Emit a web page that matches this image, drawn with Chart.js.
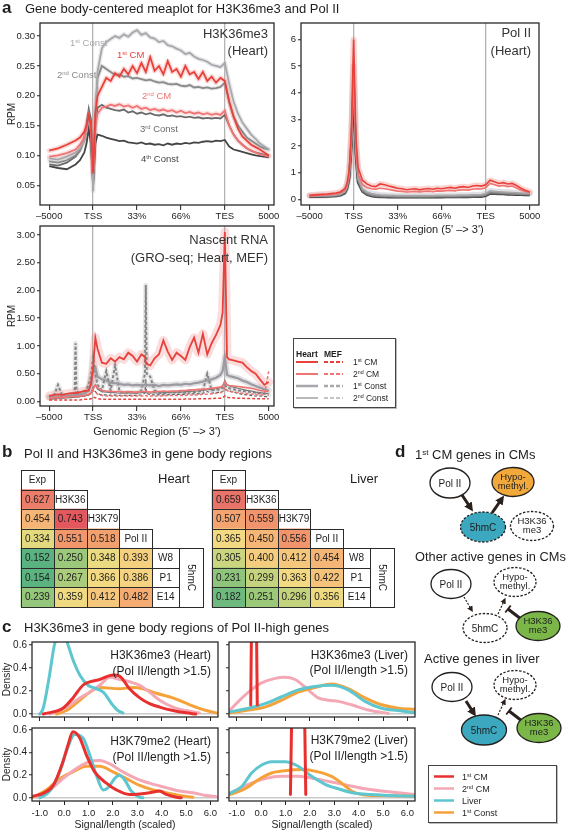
<!DOCTYPE html>
<html>
<head>
<meta charset="utf-8">
<script src="https://cdn.jsdelivr.net/npm/chart.js@4.4.0/dist/chart.umd.min.js"></script>
<style>
  html, body { margin: 0; padding: 0; background: #fff; }
  body { position: relative; width: 567px; height: 831px; overflow: hidden; font-family: 'Liberation Sans', Arial, Helvetica, sans-serif; color: #1e1e1e; }
  canvas { position: absolute; }
  .t { position: absolute; white-space: nowrap; line-height: 1; }
  .t sup { font-size: 0.62em; vertical-align: 0.48em; line-height: 0; }
  .legend { position: absolute; border: 1px solid #444; box-sizing: border-box; background: #fff; box-shadow: 1px 1px 0 #bbb; }
  svg.over { position: absolute; left: 0; top: 0; }
</style>
</head>
<body>
<script>
// ---------- data: panel a (meaplots) ----------
const regionTicks = [0, 1, 2, 3, 4, 5];
const regionLabels = ['–5000', 'TSS', '33%', '66%', 'TES', '5000'];

const metaPos = [0,0.2,0.4,0.6,0.7,0.8,0.85,0.9,0.95,1,1.05,1.1,1.2,1.3,1.4,1.5,1.6,1.7,1.8,1.9,2,2.1,2.2,2.3,2.4,2.5,2.6,2.7,2.8,2.9,3,3.1,3.2,3.3,3.4,3.5,3.6,3.7,3.8,3.9,4,4.1,4.2,4.3,4.4,4.5,4.6,4.7,4.8,4.9,5];

const k36CM1 = [0.108,0.112,0.118,0.125,0.13,0.14,0.15,0.168,0.15,0.07,
  0.17,0.2,0.215,0.23,0.225,0.238,0.232,0.245,0.236,0.25,
  0.238,0.255,0.24,0.265,0.242,0.25,0.236,0.258,0.24,0.245,
  0.232,0.25,0.236,0.24,0.228,0.24,0.225,0.232,0.222,0.23,
  0.225,0.19,0.165,0.145,0.132,0.125,0.118,0.114,0.11,0.105,0.1];
const k36CM2 = [0.098,0.1,0.104,0.11,0.118,0.13,0.145,0.165,0.145,0.07,
  0.15,0.17,0.18,0.182,0.185,0.183,0.186,0.182,0.184,0.18,
  0.183,0.178,0.18,0.176,0.178,0.175,0.177,0.174,0.176,0.172,
  0.175,0.171,0.173,0.17,0.172,0.169,0.171,0.168,0.17,0.168,
  0.175,0.15,0.135,0.125,0.118,0.112,0.108,0.105,0.102,0.1,0.098];
const k36Const1 = [0.095,0.093,0.098,0.105,0.112,0.125,0.14,0.165,0.14,0.04,
  0.16,0.24,0.28,0.29,0.295,0.3,0.297,0.303,0.299,0.306,
  0.31,0.302,0.305,0.298,0.296,0.29,0.292,0.285,0.283,0.279,
  0.276,0.27,0.272,0.266,0.262,0.26,0.257,0.252,0.25,0.248,
  0.255,0.22,0.19,0.17,0.155,0.145,0.135,0.128,0.12,0.115,0.11];
const k36Const2 = [0.09,0.088,0.092,0.1,0.108,0.125,0.145,0.17,0.15,0.06,
  0.17,0.23,0.25,0.245,0.24,0.235,0.236,0.232,0.233,0.229,
  0.23,0.228,0.226,0.227,0.224,0.222,0.223,0.22,0.219,0.22,
  0.217,0.216,0.218,0.214,0.215,0.213,0.214,0.212,0.213,0.215,
  0.222,0.19,0.165,0.15,0.14,0.13,0.125,0.12,0.115,0.112,0.11];
const k36Const3 = [0.085,0.083,0.088,0.098,0.108,0.13,0.15,0.178,0.16,0.05,
  0.15,0.18,0.185,0.18,0.178,0.176,0.175,0.177,0.172,0.174,
  0.17,0.172,0.169,0.171,0.168,0.167,0.169,0.166,0.167,0.165,
  0.166,0.164,0.165,0.163,0.164,0.162,0.163,0.162,0.163,0.162,
  0.168,0.15,0.135,0.125,0.118,0.112,0.108,0.105,0.103,0.101,0.1];
const k36Const4 = [0.082,0.079,0.077,0.085,0.092,0.105,0.12,0.145,0.12,0.05,
  0.12,0.135,0.133,0.13,0.128,0.126,0.124,0.125,0.122,0.121,
  0.12,0.122,0.119,0.12,0.118,0.119,0.117,0.12,0.118,0.12,
  0.119,0.121,0.12,0.122,0.121,0.123,0.124,0.123,0.125,0.124,
  0.126,0.115,0.11,0.108,0.106,0.104,0.102,0.1,0.099,0.098,0.097];

const polCM1 = [0.15,0.18,0.2,0.24,0.28,0.4,0.6,1.1,2.6,6.0,
  2.4,1.2,0.72,0.58,0.5,0.48,0.58,0.55,0.5,0.46,
  0.42,0.4,0.36,0.38,0.4,0.36,0.39,0.41,0.38,0.42,
  0.4,0.43,0.45,0.42,0.46,0.48,0.45,0.5,0.52,0.5,
  0.55,0.72,0.66,0.6,0.63,0.58,0.6,0.52,0.42,0.34,0.28];
const polCM2 = [0.13,0.15,0.17,0.2,0.24,0.34,0.5,0.95,2.2,5.3,
  2.0,0.95,0.55,0.45,0.4,0.38,0.42,0.4,0.37,0.34,
  0.31,0.3,0.28,0.29,0.3,0.28,0.3,0.31,0.29,0.32,
  0.31,0.33,0.34,0.32,0.35,0.36,0.35,0.38,0.4,0.39,
  0.44,0.6,0.55,0.5,0.52,0.48,0.5,0.43,0.35,0.3,0.25];
const polConst1 = [0.14,0.14,0.15,0.17,0.2,0.3,0.48,0.95,2.3,5.0,
  2.0,0.8,0.4,0.28,0.22,0.19,0.17,0.16,0.15,0.15,
  0.14,0.14,0.14,0.14,0.14,0.14,0.14,0.14,0.14,0.15,
  0.15,0.15,0.15,0.15,0.16,0.16,0.16,0.17,0.17,0.18,
  0.22,0.32,0.3,0.29,0.28,0.27,0.26,0.25,0.24,0.23,0.22];
const polConst2 = [0.12,0.12,0.13,0.15,0.18,0.27,0.44,0.9,2.2,4.6,
  1.9,0.75,0.35,0.23,0.17,0.14,0.13,0.12,0.12,0.11,
  0.11,0.11,0.11,0.11,0.11,0.11,0.11,0.11,0.11,0.12,
  0.12,0.12,0.12,0.12,0.12,0.13,0.13,0.13,0.14,0.14,
  0.18,0.27,0.26,0.25,0.24,0.23,0.22,0.21,0.2,0.2,0.19];
const polConst3 = [0.11,0.11,0.12,0.14,0.17,0.25,0.42,0.85,2.1,4.4,
  1.8,0.7,0.32,0.2,0.15,0.12,0.11,0.1,0.1,0.1,
  0.09,0.09,0.09,0.09,0.09,0.09,0.09,0.09,0.1,0.1,
  0.1,0.1,0.1,0.1,0.1,0.11,0.11,0.11,0.12,0.12,
  0.16,0.24,0.23,0.22,0.22,0.21,0.2,0.2,0.19,0.18,0.18];
const polConst4 = [0.1,0.1,0.11,0.13,0.16,0.23,0.4,0.8,2.0,4.2,
  1.7,0.65,0.3,0.18,0.13,0.1,0.09,0.09,0.08,0.08,
  0.08,0.08,0.08,0.08,0.08,0.08,0.08,0.08,0.08,0.08,
  0.08,0.09,0.09,0.09,0.09,0.09,0.09,0.1,0.1,0.1,
  0.14,0.22,0.21,0.2,0.2,0.19,0.19,0.18,0.18,0.17,0.17];

const groPos = [0,0.1,0.2,0.3,0.4,0.5,0.58,0.6,0.62,0.7,
  0.8,0.9,0.95,1,1.05,1.1,1.2,1.3,1.4,1.5,
  1.6,1.7,1.8,1.9,2,2.1,2.18,2.2,2.22,2.3,
  2.4,2.5,2.6,2.7,2.8,2.9,3,3.1,3.2,3.3,
  3.4,3.5,3.6,3.7,3.8,3.9,3.95,4,4.05,4.1,
  4.2,4.3,4.4,4.5,4.6,4.7,4.8,4.9,5];
const groHeartCM1 = [0.1,0.12,0.13,0.12,0.14,0.15,0.15,0.16,0.15,0.17,
  0.19,0.2,0.3,0.6,1.15,0.95,0.7,0.68,0.78,0.72,
  0.8,0.76,0.88,0.82,0.72,0.85,0.8,0.7,0.68,0.65,
  0.78,0.85,1.1,0.9,0.75,0.88,0.82,0.75,0.98,1.15,
  0.88,1.22,0.85,1.05,1.2,1.38,1.6,3.05,0.8,0.76,
  0.74,0.72,0.7,0.62,0.55,0.5,0.4,0.3,0.35];
const groHeartCM2 = [0.06,0.07,0.07,0.08,0.08,0.09,0.09,0.1,0.09,0.1,
  0.11,0.13,0.15,0.22,0.3,0.25,0.2,0.19,0.18,0.18,
  0.18,0.17,0.18,0.17,0.17,0.18,0.18,0.2,0.18,0.17,
  0.18,0.18,0.19,0.18,0.19,0.19,0.2,0.2,0.21,0.21,
  0.22,0.22,0.23,0.24,0.25,0.26,0.28,0.36,0.3,0.29,
  0.28,0.27,0.26,0.25,0.24,0.22,0.2,0.19,0.18];
const groHeartConst1 = [0.07,0.08,0.09,0.1,0.1,0.11,0.12,0.14,0.12,0.13,
  0.15,0.2,0.35,0.55,0.6,0.45,0.4,0.38,0.34,0.33,
  0.32,0.3,0.31,0.29,0.3,0.29,0.3,0.32,0.3,0.29,
  0.3,0.28,0.3,0.29,0.3,0.31,0.3,0.32,0.31,0.33,
  0.34,0.36,0.38,0.4,0.43,0.48,0.55,0.8,0.48,0.46,
  0.44,0.42,0.38,0.35,0.31,0.28,0.25,0.22,0.2];
const groHeartConst2 = [0.05,0.05,0.06,0.06,0.07,0.07,0.08,0.08,0.08,0.09,
  0.1,0.12,0.16,0.25,0.3,0.22,0.18,0.17,0.16,0.16,
  0.15,0.15,0.16,0.15,0.15,0.16,0.16,0.18,0.16,0.15,
  0.16,0.15,0.16,0.16,0.17,0.17,0.17,0.18,0.18,0.19,
  0.19,0.2,0.21,0.22,0.23,0.25,0.28,0.38,0.3,0.28,
  0.26,0.24,0.22,0.2,0.19,0.17,0.16,0.15,0.14];
const groMefCM1 = [0.03,0.03,0.03,0.03,0.03,0.03,0.03,0.03,0.03,0.03,
  0.04,0.04,0.05,0.08,0.07,0.05,0.04,0.04,0.04,0.04,
  0.04,0.04,0.04,0.04,0.04,0.04,0.04,0.04,0.04,0.04,
  0.04,0.04,0.04,0.04,0.04,0.04,0.04,0.045,0.045,0.045,
  0.05,0.05,0.05,0.055,0.06,0.06,0.07,0.1,0.08,0.07,
  0.065,0.06,0.06,0.055,0.055,0.05,0.05,0.05,0.05];
const groMefCM2 = [0.07,0.07,0.08,0.08,0.08,0.09,0.09,0.09,0.09,0.1,
  0.1,0.12,0.14,0.2,0.17,0.13,0.11,0.1,0.1,0.1,
  0.1,0.1,0.1,0.1,0.1,0.1,0.1,0.11,0.1,0.1,
  0.1,0.1,0.1,0.11,0.11,0.11,0.11,0.11,0.12,0.12,
  0.12,0.13,0.13,0.14,0.15,0.16,0.18,0.25,0.2,0.18,
  0.17,0.16,0.15,0.14,0.13,0.13,0.12,0.12,0.55];
const groMefConst1 = [0.1,0.09,0.3,0.1,0.1,0.11,0.15,1.05,0.2,0.12,
  0.14,0.3,0.45,0.8,0.5,0.3,0.2,0.55,0.2,0.65,
  0.18,0.17,0.16,0.17,0.16,0.2,0.5,2.1,0.5,0.45,
  0.2,0.16,0.15,0.16,0.17,0.16,0.17,0.16,0.18,0.17,
  0.18,0.19,0.5,0.2,0.21,0.22,0.25,0.3,0.25,0.24,
  0.22,0.2,0.19,0.18,0.17,0.16,0.15,0.14,0.12];
const groMefConst2 = [0.08,0.08,0.08,0.08,0.08,0.08,0.09,0.12,0.09,0.09,
  0.1,0.12,0.15,0.2,0.18,0.14,0.12,0.12,0.11,0.12,
  0.11,0.11,0.11,0.11,0.11,0.12,0.15,0.4,0.15,0.12,
  0.12,0.12,0.12,0.12,0.13,0.13,0.13,0.13,0.14,0.14,
  0.14,0.15,0.18,0.15,0.16,0.17,0.18,0.22,0.2,0.19,
  0.17,0.15,0.13,0.12,0.11,0.1,0.1,0.09,0.09];

// ---------- data: panel b (correlation tables) ----------
const heatMarks = ['Exp', 'H3K36', 'H3K79', 'Pol II'];
const hmcStages = ['W8', 'P1', 'E14'];
const heartH3K36 = [0.627];
const heartH3K79 = [0.454, 0.743];
const heartPolII = [0.334, 0.551, 0.518];
const heartW8 = [0.152, 0.250, 0.348, 0.393];
const heartP1 = [0.154, 0.267, 0.366, 0.386];
const heartE14 = [0.239, 0.359, 0.412, 0.482];
const liverH3K36 = [0.659];
const liverH3K79 = [0.507, 0.559];
const liverPolII = [0.365, 0.450, 0.556];
const liverW8 = [0.305, 0.400, 0.412, 0.454];
const liverP1 = [0.231, 0.299, 0.363, 0.422];
const liverE14 = [0.182, 0.251, 0.296, 0.356];

// ---------- data: panel c (densities, [signal, density]) ----------
const signalTicks = [-1, 0, 1, 2, 3, 4, 5, 6];
const densityTicks = [0, 0.2, 0.4, 0.6];
const hk36CM1 = [[-0.86,0],[-0.05,0.05],[0.36,0.14],[0.77,0.25],[1.05,0.28],[1.46,0.3],[2.0,0.34],[2.27,0.33],[2.68,0.22],[3.1,0.14],[3.5,0.09],[3.92,0.06],[4.46,0.03],[5.0,0.01],[5.4,0]];
const hk36CM2 = [[-0.59,0],[0.09,0.06],[0.64,0.14],[1.05,0.19],[1.46,0.25],[1.87,0.32],[2.27,0.3],[2.68,0.28],[3.1,0.25],[3.5,0.19],[3.92,0.12],[4.46,0.06],[5.0,0.03],[5.55,0.01]];
const hk36Liver = [[-1.0,0],[-0.86,0.05],[-0.6,0.34],[-0.4,0.6],[-0.2,0.69],[0,0.69],[0.16,0.6],[0.4,0.45],[0.64,0.34],[0.98,0.25],[1.32,0.22],[1.6,0.19],[2.0,0.075],[2.2,0.03],[2.41,0.01]];
const hk36Const1 = [[-0.32,0],[0.09,0.03],[0.64,0.12],[1.05,0.19],[1.46,0.23],[2.27,0.22],[2.82,0.23],[3.23,0.22],[3.78,0.18],[4.46,0.14],[5.15,0.08],[5.83,0.03],[6.24,0.01]];
const hk79CM1 = [[-1.28,0.015],[-0.86,0.04],[-0.45,0.11],[-0.05,0.32],[0.16,0.47],[0.36,0.585],[0.64,0.53],[0.91,0.38],[1.25,0.23],[1.73,0.13],[2.14,0.07],[2.68,0.03],[3.1,0.035],[3.5,0.045],[3.92,0.06],[4.19,0.03],[4.6,0.005],[4.8,0]];
const hk79CM2 = [[-1.14,0.005],[-0.59,0.07],[-0.05,0.17],[0.5,0.26],[1.05,0.32],[1.46,0.33],[1.87,0.3],[2.41,0.23],[2.96,0.17],[3.5,0.13],[4.19,0.09],[4.73,0.06],[5.28,0.045],[5.83,0.02],[6.24,0.01]];
const hk79Liver = [[-1.0,0],[-0.59,0.06],[-0.18,0.23],[0.09,0.41],[0.43,0.56],[0.77,0.53],[1.05,0.38],[1.32,0.2],[1.6,0.07],[1.8,0.09],[2.07,0.17],[2.27,0.2],[2.48,0.16],[2.75,0.06],[3.1,0.005],[3.23,0]];
const hk79Const1 = [[-1.28,0.005],[-0.73,0.07],[-0.18,0.17],[0.36,0.23],[0.91,0.28],[1.46,0.28],[2.0,0.23],[2.55,0.17],[3.1,0.11],[3.64,0.07],[4.19,0.045],[4.73,0.02],[5.28,0.005]];
const lk36CM1 = [[-0.43,0.078],[-0.39,0.9],[-0.2,0.9],[-0.16,0.078]];
const lk36CM2 = [[-1.27,0.035],[-0.93,0.11],[-0.52,0.19],[0.02,0.27],[0.57,0.31],[0.98,0.32],[1.39,0.3],[1.93,0.21],[2.34,0.14],[2.75,0.12],[3.16,0.11],[3.71,0.08],[4.39,0.035],[5.22,0.005]];
const lk36Liver = [[-1.27,0.02],[-0.52,0.05],[0.16,0.09],[0.84,0.15],[1.52,0.21],[2.21,0.24],[2.89,0.25],[3.57,0.21],[4.26,0.11],[4.94,0.05],[5.62,0.03],[6.3,0.01]];
const lk36Const1 = [[-1.27,0.01],[-0.52,0.035],[0.16,0.06],[0.84,0.12],[1.52,0.19],[2.21,0.23],[2.89,0.26],[3.57,0.22],[4.26,0.14],[4.94,0.08],[5.62,0.05],[6.3,0.04]];
const lk79CM1 = [[1.2,0.03],[1.265,0.9],[1.77,0.9],[1.83,0.03]];
const lk79CM2 = [[-1.27,0.04],[-0.52,0.12],[0.16,0.17],[0.84,0.19],[1.52,0.19],[2.21,0.17],[2.89,0.14],[3.57,0.11],[4.26,0.08],[4.94,0.06],[5.62,0.045],[6.3,0.03]];
const lk79Liver = [[-1.27,0.04],[-0.8,0.1],[-0.39,0.22],[0.02,0.29],[0.43,0.32],[0.98,0.32],[1.52,0.28],[2.07,0.19],[2.62,0.12],[3.16,0.08],[3.85,0.04],[4.53,0.03],[5.22,0.02],[6.3,0.015]];
const lk79Const1 = [[-1.27,0.03],[-0.66,0.08],[-0.12,0.16],[0.43,0.22],[0.98,0.24],[1.66,0.25],[2.34,0.23],[2.89,0.19],[3.3,0.13],[3.71,0.06],[4.12,0.03],[4.94,0.02],[6.3,0.015]];

// ---------- setup ----------
const FONT = "'Liberation Sans', Arial, Helvetica, sans-serif";
Chart.defaults.font.family = FONT;
Chart.defaults.font.size = 10;
Chart.defaults.color = '#1e1e1e';

const col = { cm1: '#e8413c', cm2: '#f07474', c1: '#a7a7ac', c2: '#8a8a8a', c3: '#6a6a6a', c4: '#454545',
  red: '#e8312f', pink: '#f4a8b6', cyan: '#5ec6cf', orange: '#f6a23a' };

// box around the plot area
const frame = {
  id: 'frame',
  afterDatasetsDraw(chart) {
    const a = chart.chartArea, ctx = chart.ctx;
    ctx.save();
    ctx.strokeStyle = '#2a2a2a';
    ctx.lineWidth = 1.3;
    ctx.strokeRect(a.left, a.top, a.right - a.left, a.bottom - a.top);
    ctx.restore();
  }
};

function addCanvas(left, top, width, height) {
  const cv = document.createElement('canvas');
  cv.width = width; cv.height = height;
  cv.style.cssText = `left:${left}px;top:${top}px;width:${width}px;height:${height}px`;
  document.body.appendChild(cv);
  return cv;
}

function pts(xs, ys) { return xs.map((x, i) => ({ x, y: ys[i] })); }
function line(xs, ys, color, width, order, extra) {
  return Object.assign({ data: pts(xs, ys), borderColor: color, borderWidth: width, pointRadius: 0, tension: 0, order }, extra || {});
}
function band(xs, ys, color, width) {
  return line(xs, ys, color, width, 20, { borderJoinStyle: 'round', borderCapStyle: 'round' });
}
function curve(pairs, color, order, smooth = true) {
  return { data: pairs.map(([x, y]) => ({ x, y })), borderColor: color, borderWidth: 3, pointRadius: 0, order,
    tension: 0, cubicInterpolationMode: smooth ? 'monotone' : 'default', borderJoinStyle: 'round', borderCapStyle: 'round' };
}

function yAxis(p, min, max, ticks, fmt, title, showLabels, zeroLine) {
  return {
    type: 'linear', position: 'left', min, max,
    afterBuildTicks: s => { s.ticks = ticks.map(v => ({ value: v })); },
    afterFit: s => { s.width = p.yw; s.paddingTop = 0; s.paddingBottom = 0; },
    grid: { drawOnChartArea: !!zeroLine, color: c => (zeroLine && c.tick && c.tick.value === 0) ? '#c9c9c9' : 'rgba(0,0,0,0)',
      lineWidth: 1.5, tickColor: '#222', tickWidth: 1, tickLength: 3 },
    border: { display: false },
    ticks: { display: showLabels, callback: fmt, padding: 2, font: { size: p.ySize || 9.5 } },
    title: { display: !!title, text: title, font: { size: 10 }, padding: { top: p.titleLeft || 6, bottom: 0 } }
  };
}

function xAxis(p, min, max, ticks, fmt, o) {
  return {
    type: 'linear', position: 'bottom', min, max,
    afterBuildTicks: s => { s.ticks = ticks.map(v => ({ value: v })); },
    afterFit: s => { s.height = p.xh; s.paddingLeft = 0; s.paddingRight = 0; },
    grid: o.grid,
    border: { display: false },
    ticks: { display: o.labels, callback: fmt, padding: o.pad, font: { size: o.size }, maxRotation: 0, autoSkip: false },
    title: { display: !!o.title, text: o.title, font: { size: o.titleSize || 11 }, padding: { top: 0, bottom: o.titlePad || 0 } }
  };
}

function buildChart(p, datasets, scales) {
  const left = p.l - p.yw, top = p.t - p.padT;
  const cv = addCanvas(left, top, p.r + p.padR - left, p.b + p.xh - top);
  return new Chart(cv, {
    type: 'line',
    data: { datasets },
    plugins: [frame],
    options: {
      responsive: false, animation: false, events: [],
      layout: { padding: { top: p.padT, right: p.padR, bottom: 0, left: 0 } },
      plugins: { legend: { display: false }, tooltip: { enabled: false } },
      scales
    }
  });
}

// ---------- panel a ----------
const regionGrid = { color: c => (c.tick && (c.tick.value === 1 || c.tick.value === 4)) ? '#b4b4b4' : 'rgba(0,0,0,0)',
  lineWidth: 1.3, tickColor: '#222', tickWidth: 1, tickLength: 5 };
const regionFmt = v => regionLabels[regionTicks.indexOf(v)];

const pA1 = { l: 40, t: 23, r: 274, b: 205, yw: 40, xh: 18, padT: 8, padR: 14 };
buildChart(pA1, [
  line(metaPos, k36CM1, col.cm1, 1.8, 0),
  line(metaPos, k36CM2, col.cm2, 1.8, 1),
  line(metaPos, k36Const1, col.c1, 1.8, 2),
  line(metaPos, k36Const2, col.c2, 1.8, 3),
  line(metaPos, k36Const3, col.c3, 1.8, 4),
  line(metaPos, k36Const4, col.c4, 1.8, 5),
  band(metaPos, k36CM1, 'rgba(240,120,110,0.28)', 5),
  band(metaPos, k36CM2, 'rgba(245,150,150,0.28)', 5),
  band(metaPos, k36Const1, 'rgba(190,190,195,0.35)', 4.5),
  band(metaPos, k36Const2, 'rgba(160,160,160,0.25)', 4)
], {
  x: xAxis(pA1, -0.21, 5.12, regionTicks, regionFmt, { grid: regionGrid, labels: true, pad: 1, size: 9.5 }),
  y: yAxis(pA1, 0.017, 0.322, [0.05, 0.1, 0.15, 0.2, 0.25, 0.3], v => v.toFixed(2), 'RPM', true)
});

const pA2 = { l: 301, t: 23, r: 539, b: 205, yw: 28, xh: 33, padT: 8, padR: 16 };
buildChart(pA2, [
  line(metaPos, polCM1, col.cm1, 1.6, 0),
  line(metaPos, polCM2, col.cm2, 1.6, 1),
  line(metaPos, polConst1, col.c1, 1.6, 2),
  line(metaPos, polConst2, col.c2, 1.8, 3),
  line(metaPos, polConst3, col.c3, 2, 4),
  line(metaPos, polConst4, col.c4, 2.6, 5),
  band(metaPos, polCM1, 'rgba(240,120,110,0.3)', 6),
  band(metaPos, polConst1, 'rgba(170,170,175,0.35)', 6)
], {
  x: xAxis(pA2, -0.195, 5.21, regionTicks, regionFmt, { grid: regionGrid, labels: true, pad: 1, size: 9.5,
    title: "Genomic Region (5' –> 3')", titleSize: 11, titlePad: 1 }),
  y: yAxis(pA2, -0.21, 6.62, [0, 1, 2, 3, 4, 5, 6], v => String(v), '', true)
});

const pA3 = { l: 40, t: 226, r: 274, b: 406, yw: 40, xh: 34, padT: 6, padR: 14 };
buildChart(pA3, [
  line(groPos, groHeartCM1, col.cm1, 1.8, 0),
  line(groPos, groHeartCM2, col.cm2, 1.6, 2),
  line(groPos, groHeartConst1, '#9a9aa0', 2.2, 3),
  line(groPos, groHeartConst2, '#7a7a7a', 1.2, 4),
  line(groPos, groMefCM1, col.cm1, 1.5, 1, { borderDash: [3, 2] }),
  line(groPos, groMefCM2, col.cm2, 1.5, 5, { borderDash: [3, 2] }),
  line(groPos, groMefConst1, '#858585', 2, 6, { borderDash: [3, 2] }),
  line(groPos, groMefConst2, '#5e5e5e', 1.2, 7, { borderDash: [3, 2] }),
  band(groPos, groHeartCM1, 'rgba(240,120,120,0.25)', 9),
  band(groPos, groHeartConst1, 'rgba(170,170,175,0.35)', 6),
  band(groPos, groMefConst1, 'rgba(190,190,190,0.35)', 5)
], {
  x: xAxis(pA3, -0.21, 5.12, regionTicks, regionFmt, { grid: regionGrid, labels: true, pad: 1, size: 9.5,
    title: "Genomic Region (5' –> 3')", titleSize: 11, titlePad: 1 }),
  y: yAxis(pA3, -0.08, 3.16, [0, 0.5, 1, 1.5, 2, 2.5, 3], v => v.toFixed(2), 'RPM', true)
});

// ---------- panel b ----------
function heatColor(v) {
  const stops = [[0.15,[88,178,128]],[0.25,[155,200,122]],[0.33,[225,218,128]],[0.37,[245,218,130]],
    [0.45,[245,182,118]],[0.55,[242,150,108]],[0.65,[234,118,106]],[0.75,[226,86,94]]];
  if (v <= stops[0][0]) return `rgb(${stops[0][1].join(',')})`;
  for (let i = 1; i < stops.length; i++) {
    if (v <= stops[i][0]) {
      const [a, ca] = stops[i - 1], [b, cb] = stops[i], t = (v - a) / (b - a);
      return `rgb(${ca.map((c, k) => Math.round(c + (cb[k] - c) * t)).join(',')})`;
    }
  }
  return `rgb(${stops[stops.length - 1][1].join(',')})`;
}

function strokeBox(ctx, b) {
  const x0 = Math.round(b.x0), y0 = Math.round(b.y0), x1 = Math.round(b.x1), y1 = Math.round(b.y1);
  ctx.strokeRect(x0 + 0.5, y0 + 0.5, x1 - x0, y1 - y0);
}

// cell outlines and numbers, placed on the bars the library laid out
const cellText = {
  id: 'cellText',
  afterDatasetsDraw(chart) {
    const ctx = chart.ctx;
    ctx.save();
    ctx.font = `10px ${FONT}`;
    ctx.fillStyle = '#1e1e1e';
    ctx.textAlign = 'center';
    ctx.textBaseline = 'middle';
    ctx.strokeStyle = '#2a2a2a';
    ctx.lineWidth = 1;
    chart.data.datasets.forEach((ds, k) => {
      const els = chart.getDatasetMeta(k).data;
      const boxes = [];
      ds.data.forEach((d, i) => {
        if (!d) return;
        const el = els[i];
        boxes.push({ x0: Math.min(el.base, el.x), x1: Math.max(el.base, el.x),
          y0: el.y - el.height / 2, y1: el.y + el.height / 2, t: ds.texts ? ds.texts[i] : '' });
      });
      if (!boxes.length) return;
      if (ds.merged) {
        const b = { x0: boxes[0].x0, x1: boxes[0].x1, y0: boxes[0].y0, y1: boxes[boxes.length - 1].y1 };
        strokeBox(ctx, b);
        ctx.save();
        ctx.translate((b.x0 + b.x1) / 2, (b.y0 + b.y1) / 2);
        ctx.rotate(Math.PI / 2);
        ctx.fillText(ds.merged, 0, 0);
        ctx.restore();
      } else {
        boxes.forEach(b => { strokeBox(ctx, b); ctx.fillText(b.t, (b.x0 + b.x1) / 2, (b.y0 + b.y1) / 2 + 0.5); });
      }
    });
    ctx.restore();
  }
};

function heatTable(left, top, rows) {
  const cv = addCanvas(left - 1, top - 1, 184, 139);
  const datasets = heatMarks.map((m, j) => {
    const data = [], colors = [], texts = [];
    rows.forEach((r, i) => {
      if (i === j) { data.push([j, j + 1]); colors.push('#fff'); texts.push(m); }
      else if (i > j && r[j] !== undefined) { data.push([j, j + 1]); colors.push(heatColor(r[j])); texts.push(r[j].toFixed(3)); }
      else { data.push(null); colors.push('#fff'); texts.push(''); }
    });
    return { data, backgroundColor: colors, texts };
  });
  const stageIdx = rows.map((r, i) => i - (rows.length - hmcStages.length));
  datasets.push({ data: stageIdx.map(k => k >= 0 ? [4, 4.82] : null), backgroundColor: '#fff',
    texts: stageIdx.map(k => k >= 0 ? hmcStages[k] : '') });
  datasets.push({ data: stageIdx.map(k => k >= 0 ? [4.82, 5.55] : null), backgroundColor: '#fff', merged: '5hmC' });
  new Chart(cv, {
    type: 'bar',
    data: { labels: rows.map((r, i) => i), datasets },
    plugins: [cellText],
    options: {
      indexAxis: 'y', responsive: false, animation: false, events: [],
      layout: { padding: 1 },
      plugins: { legend: { display: false }, tooltip: { enabled: false } },
      datasets: { bar: { grouped: false, barPercentage: 1, categoryPercentage: 1, borderWidth: 0, clip: false } },
      scales: { x: { type: 'linear', min: 0, max: 5.55, display: false }, y: { type: 'category', display: false, offset: true } }
    }
  });
}
heatTable(21, 470, [[], heartH3K36, heartH3K79, heartPolII, heartW8, heartP1, heartE14]);
heatTable(212, 470, [[], liverH3K36, liverH3K79, liverPolII, liverW8, liverP1, liverE14]);

// ---------- panel c ----------
const densGrid = { drawOnChartArea: false, tickColor: '#222', tickWidth: 1, tickLength: 4 };
const sigFmt = v => v.toFixed(1);
function densityChart(p, sets, showX, showY) {
  buildChart(p, sets, {
    x: xAxis(p, -1.32, 6.31, signalTicks, sigFmt, { grid: densGrid, labels: showX, pad: 3, size: 9.5,
      title: showX ? 'Signal/length (scaled)' : '', titleSize: 10.5, titlePad: 0 }),
    y: yAxis(p, p.yMin, p.yMax, densityTicks, v => v.toFixed(1), showY ? 'Density' : '', showY, true)
  });
}
densityChart({ l: 32, t: 642, r: 218, b: 717, yw: 32, xh: 6, padT: 4, padR: 6, yMin: -0.026, yMax: 0.626, ySize: 10, titleLeft: 1.5 }, [
  curve(hk36CM1, col.red, 0), curve(hk36Liver, col.cyan, 1), curve(hk36CM2, col.pink, 2), curve(hk36Const1, col.orange, 3)
], false, true);
densityChart({ l: 32, t: 728, r: 218, b: 801, yw: 32, xh: 30, padT: 4, padR: 6, yMin: -0.028, yMax: 0.618, ySize: 10, titleLeft: 1.5 }, [
  curve(hk79CM1, col.red, 0), curve(hk79Liver, col.cyan, 1), curve(hk79CM2, col.pink, 2), curve(hk79Const1, col.orange, 3)
], true, true);
densityChart({ l: 229, t: 642, r: 415, b: 717, yw: 6, xh: 6, padT: 4, padR: 8, yMin: -0.026, yMax: 0.626 }, [
  curve(lk36CM1, col.red, 0, false), curve(lk36Liver, col.cyan, 1), curve(lk36Const1, col.orange, 2), curve(lk36CM2, col.pink, 3)
], false, false);
densityChart({ l: 229, t: 728, r: 415, b: 801, yw: 6, xh: 30, padT: 4, padR: 8, yMin: -0.028, yMax: 0.618 }, [
  curve(lk79CM1, col.red, 0, false), curve(lk79Liver, col.cyan, 1), curve(lk79Const1, col.orange, 2), curve(lk79CM2, col.pink, 3)
], true, false);

// ---------- legends, diagram, text ----------
function box(l, t, w, h) {
  const d = document.createElement('div');
  d.className = 'legend';
  d.style.cssText = `left:${l}px;top:${t}px;width:${w}px;height:${h}px`;
  document.body.appendChild(d);
}
box(293, 338, 103, 70);
box(428, 765, 129, 58);

function ell(cx, cy, rx, ry, fill, dashed) {
  return `<ellipse cx="${cx}" cy="${cy}" rx="${rx}" ry="${ry}" fill="${fill}" stroke="#231f1c" stroke-width="1.3"${dashed ? ' stroke-dasharray="2.4 1.6"' : ''}/>`;
}
function lbl(x, y, s, size = 10) { return `<text x="${x}" y="${y}" font-size="${size}" text-anchor="middle">${s}</text>`; }
function node2(cx, cy, a, b) { return lbl(cx, cy - 1.5, a, 9.5) + lbl(cx, cy + 8, b, 9.5); }
function arrow(x1, y1, x2, y2, thick) {
  return thick
    ? `<line x1="${x1}" y1="${y1}" x2="${x2}" y2="${y2}" stroke="#2b211c" stroke-width="3" marker-end="url(#ahT)"/>`
    : `<line x1="${x1}" y1="${y1}" x2="${x2}" y2="${y2}" stroke="#2b211c" stroke-width="1.2" stroke-dasharray="2 1.5" marker-end="url(#ahS)"/>`;
}
function inhibit(x1, y1, x2, y2) {
  const dx = x2 - x1, dy = y2 - y1, n = Math.hypot(dx, dy), px = -dy / n * 4.5, py = dx / n * 4.5;
  return `<line x1="${x1}" y1="${y1}" x2="${x2}" y2="${y2}" stroke="#2b211c" stroke-width="3"/>` +
    `<line x1="${x2 + px}" y1="${y2 + py}" x2="${x2 - px}" y2="${y2 - py}" stroke="#2b211c" stroke-width="1.8"/>`;
}
const green = '#7bb648', teal = '#3ba8bf', amber = '#f2a93b';
let svg = `<svg class="over" width="567" height="831" font-family="Liberation Sans, Arial, sans-serif" fill="#1e1e1e">
<defs>
<marker id="ahT" viewBox="0 0 10 10" refX="4" refY="5" markerWidth="3" markerHeight="3" orient="auto"><path d="M0,0 L10,5 L0,10 z" fill="#2b211c"/></marker>
<marker id="ahS" viewBox="0 0 10 10" refX="4" refY="5" markerWidth="5" markerHeight="5" orient="auto"><path d="M0,0 L10,5 L0,10 z" fill="#2b211c"/></marker>
</defs>`;
// legend a line samples
[[362, col.cm1, 2], [374, col.cm2, 2], [386, col.c1, 2.5], [398, col.c2, 1.2]].forEach(([y, c, w]) => {
  svg += `<line x1="296" y1="${y}" x2="318" y2="${y}" stroke="${c}" stroke-width="${w}"/>`;
  svg += `<line x1="324" y1="${y}" x2="343" y2="${y}" stroke="${c}" stroke-width="${w}" stroke-dasharray="4 2"/>`;
});
// legend c line samples
[[776.5, col.red], [788.5, col.pink], [800.5, col.cyan], [812.5, col.orange]].forEach(([y, c]) => {
  svg += `<line x1="434" y1="${y}" x2="454" y2="${y}" stroke="${c}" stroke-width="2.5"/>`;
});
// panel d: 1st CM genes in CMs
svg += arrow(462, 495, 470, 507, true) + arrow(492, 513, 501, 500, true);
svg += ell(450, 483, 20, 15, '#fff', false) + lbl(450, 486.5, 'Pol II');
svg += ell(513, 482, 21, 14.5, amber, false) + node2(513, 481, 'Hypo-', 'methyl.');
svg += ell(483, 527, 22.5, 15, teal, true) + lbl(483, 530.5, '5hmC');
svg += ell(532, 526, 21.5, 14.5, '#fff', true) + node2(532, 525, 'H3K36', 'me3');
// other active genes in CMs
svg += arrow(464, 597, 471, 609, false) + arrow(498, 614, 504, 601, false) + inhibit(521, 619, 508, 609);
svg += ell(451, 584, 20, 14.5, '#fff', false) + lbl(451, 587.5, 'Pol II');
svg += ell(515, 582, 21, 14.5, '#fff', true) + node2(515, 581, 'Hypo-', 'methyl.');
svg += ell(485, 628, 22, 14.5, '#fff', true) + lbl(485, 631.5, '5hmC');
svg += ell(538, 626, 22, 14.5, green, false) + node2(538, 625, 'H3K36', 'me3');
// active genes in liver
svg += arrow(466, 701, 473, 712, true) + arrow(498, 715, 504, 702, false) + inhibit(522, 721, 509, 711);
svg += ell(452, 687, 20, 14.5, '#fff', false) + lbl(452, 690.5, 'Pol II');
svg += ell(515, 685, 21, 14.5, '#fff', true) + node2(515, 684, 'Hypo-', 'methyl.');
svg += ell(484, 730, 22.5, 15, teal, false) + lbl(484, 733.5, '5hmC');
svg += ell(539, 728, 22, 14.5, green, false) + node2(539, 727, 'H3K36', 'me3');
svg += '</svg>';
document.body.insertAdjacentHTML('beforeend', svg);

function txt(html, x, y, size, o = {}) {
  const d = document.createElement('div');
  d.className = 't';
  d.innerHTML = html;
  d.style.fontSize = size + 'px';
  d.style.top = (y - 0.5 * size) + 'px';
  if (o.right) d.style.right = (567 - x) + 'px'; else d.style.left = x + 'px';
  if (o.color) d.style.color = o.color;
  if (o.bold) d.style.fontWeight = 'bold';
  document.body.appendChild(d);
}
// panel headings
txt('a', 2, 7, 17, { bold: true });
txt('Gene body-centered meaplot for H3K36me3 and Pol II', 25, 8, 13);
txt('b', 2, 451, 17, { bold: true });
txt('Pol II and H3K36me3 in gene body regions', 24, 453, 13);
txt('c', 2, 626, 17, { bold: true });
txt('H3K36me3 in gene body regions of Pol II-high genes', 24, 627, 13);
txt('d', 395, 451, 17, { bold: true });
// panel a annotations
txt('H3K36me3', 268, 33, 13, { right: true, color: '#333' });
txt('(Heart)', 268, 50, 13, { right: true, color: '#333' });
txt('1<sup>st</sup> Const', 70, 43, 9.5, { color: '#a9a9ad' });
txt('1<sup>st</sup> CM', 117, 55, 9.5, { color: col.cm1 });
txt('2<sup>nd</sup> Const', 57, 75, 9.5, { color: '#8a8a8a' });
txt('2<sup>nd</sup> CM', 142, 96, 9.5, { color: col.cm2 });
txt('3<sup>rd</sup> Const', 140, 129, 9.5, { color: '#6a6a6a' });
txt('4<sup>th</sup> Const', 141, 159, 9.5, { color: '#454545' });
txt('Pol II', 531, 32, 13, { right: true, color: '#333' });
txt('(Heart)', 531, 50, 13, { right: true, color: '#333' });
txt('Nascent RNA', 268, 239, 13, { right: true, color: '#333' });
txt('(GRO-seq; Heart, MEF)', 268, 257, 13, { right: true, color: '#333' });
// legend a
txt('Heart', 296, 354, 8.5, { bold: true });
txt('MEF', 324, 354, 8.5, { bold: true });
txt('1<sup>st</sup> CM', 353, 362, 8.5);
txt('2<sup>nd</sup> CM', 353, 374, 8.5);
txt('1<sup>st</sup> Const', 353, 386, 8.5);
txt('2<sup>nd</sup> Const', 353, 398, 8.5);
// panel b
txt('Heart', 158, 478, 13);
txt('Liver', 350, 478, 13);
// panel c annotations
txt('H3K36me3 (Heart)', 211, 655, 12, { right: true });
txt('(Pol II/length &gt;1.5)', 211, 671, 12, { right: true });
txt('H3K79me2 (Heart)', 211, 741, 12, { right: true });
txt('(Pol II/length &gt;1.5)', 211, 757, 12, { right: true });
txt('H3K36me3 (Liver)', 408, 655, 12, { right: true });
txt('(Pol II/length &gt;1.5)', 408, 670, 12, { right: true });
txt('H3K79me2 (Liver)', 408, 740, 12, { right: true });
txt('(Pol II/length &gt;1.5)', 408, 756, 12, { right: true });
// legend c
txt('1<sup>st</sup> CM', 462, 777, 9);
txt('2<sup>nd</sup> CM', 462, 789, 9);
txt('Liver', 462, 801, 9);
txt('1<sup>st</sup> Const', 462, 813, 9);
// panel d titles
txt('1<sup>st</sup> CM genes in CMs', 415, 454, 13);
txt('Other active genes in CMs', 415, 557, 12.8);
txt('Active genes in liver', 424, 658, 13);
</script>
</body>
</html>
